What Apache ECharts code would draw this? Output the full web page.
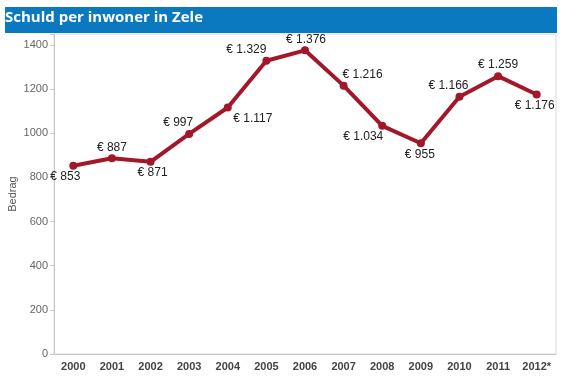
<!DOCTYPE html>
<html>
<head>
<meta charset="utf-8">
<script src="https://cdn.jsdelivr.net/npm/echarts@6/dist/echarts.min.js"></script>
<style>
  html, body { margin: 0; padding: 0; background: #fff; }
  #chart { width: 565px; height: 378px; }
</style>
</head>
<body>
<div id="chart"></div>
<script>
// data
const years = ['2000', '2001', '2002', '2003', '2004', '2005', '2006', '2007', '2008', '2009', '2010', '2011', '2012*'];
const debtPerInhabitant = [853, 887, 871, 997, 1117, 1329, 1376, 1216, 1034, 955, 1166, 1259, 1176];
const yTicks = [0, 200, 400, 600, 800, 1000, 1200, 1400];

// where each value label sits relative to its point
const labelSide = ['bottom', 'top', 'bottom', 'top', 'bottom', 'top', 'top', 'top', 'bottom', 'bottom', 'top', 'top', 'bottom'];
const labelShiftX = [-8, 0, 2, -11, 25, -20, 1, 19, -19, -1, -11, 0, -2];

const fmtEuro = (v) => '€ ' + String(v).replace(/\B(?=(\d{3})+(?!\d))/g, '.');

const chart = echarts.init(document.getElementById('chart'));

const options = {
  animation: false,
  graphic: [
    {
      type: 'rect',
      left: 5, top: 7,
      shape: { width: 552, height: 26 },
      style: { fill: '#0a79bf' }
    },
    {
      type: 'text',
      left: 5, top: 10,
      style: {
        text: 'Schuld per inwoner in Zele',
        fill: '#fff',
        font: 'bold 15px "Open Sans"'
      }
    }
  ],
  grid: {
    left: 54,
    right: 9,
    top: 34,
    bottom: 24,
    outerBoundsMode: 'none',
    containLabel: false,
    show: true,
    borderColor: '#d8d8d8',
    borderWidth: 1
  },
  xAxis: {
    type: 'category',
    data: years,
    axisLine: { lineStyle: { color: '#c8c8c8' } },
    axisTick: { length: 4, lineStyle: { color: '#c8c8c8' } },
    axisLabel: {
      color: '#444',
      fontSize: 11,
      fontWeight: 'bold',
      fontFamily: 'Liberation Sans',
      margin: 7
    }
  },
  yAxis: {
    type: 'value',
    min: 0,
    max: 1450,
    interval: 200,
    name: 'Bedrag',
    nameLocation: 'middle',
    nameMoveOverlap: false,
    nameGap: 36,
    nameTextStyle: { color: '#555', fontSize: 11, fontFamily: 'Liberation Sans' },
    axisLine: { show: true, lineStyle: { color: '#c8c8c8' } },
    axisTick: { show: true, length: 4, lineStyle: { color: '#c8c8c8' } },
    splitLine: { show: false },
    axisLabel: {
      color: '#666',
      fontSize: 11,
      fontFamily: 'Liberation Sans',
      margin: 6,
      formatter: (v) => (yTicks.includes(v) ? String(v) : '')
    }
  },
  series: [
    {
      type: 'line',
      data: debtPerInhabitant.map((v, i) => ({
        value: v,
        label: {
          position: labelSide[i],
          offset: [labelShiftX[i], 0]
        }
      })),
      symbol: 'circle',
      symbolSize: 8,
      lineStyle: { color: '#a3172a', width: 4 },
      itemStyle: { color: '#a3172a' },
      label: {
        show: true,
        distance: 1,
        color: '#222',
        fontSize: 12,
        fontFamily: 'Liberation Sans',
        formatter: (p) => fmtEuro(p.value)
      }
    }
  ]
};

chart.setOption(options);
</script>
</body>
</html>
